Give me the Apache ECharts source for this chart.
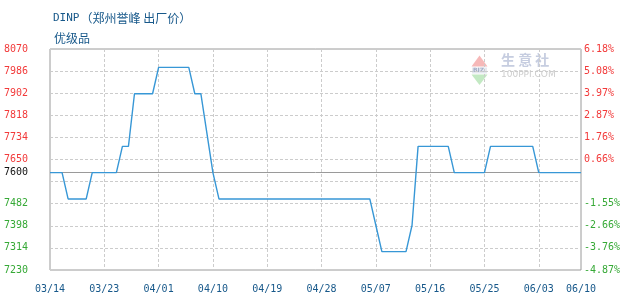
<!DOCTYPE html>
<html>
<head>
<meta charset="utf-8">
<script src="https://cdn.jsdelivr.net/npm/echarts@6/dist/echarts.min.js"></script>
<style>
  html, body { margin: 0; padding: 0; background: #fff; }
  #chart { width: 630px; height: 300px; }
</style>
</head>
<body>
<div id="chart"></div>
<script>
// ---- data ----
const titleCode = 'DINP';
const titleRest = '（郑州誉峰 出厂价）';
const subTitleText = '优级品';
const baseValue = 7600;
const yMin = 7230;
const yMax = 8070;
const yStep = 84;
const dates = [
  '03/14','03/15','03/16','03/17','03/18','03/19','03/20','03/21','03/22','03/23',
  '03/24','03/25','03/26','03/27','03/28','03/29','03/30','03/31','04/01','04/02',
  '04/03','04/04','04/05','04/06','04/07','04/08','04/09','04/10','04/11','04/12',
  '04/13','04/14','04/15','04/16','04/17','04/18','04/19','04/20','04/21','04/22',
  '04/23','04/24','04/25','04/26','04/27','04/28','04/29','04/30','05/01','05/02',
  '05/03','05/04','05/05','05/06','05/07','05/08','05/09','05/10','05/11','05/12',
  '05/13','05/14','05/15','05/16','05/17','05/18','05/19','05/20','05/21','05/22',
  '05/23','05/24','05/25','05/26','05/27','05/28','05/29','05/30','05/31','06/01',
  '06/02','06/03','06/04','06/05','06/06','06/07','06/08','06/09','06/10'
];
const prices = [
  7600,7600,7600,7500,7500,7500,7500,7600,7600,7600,
  7600,7600,7700,7700,7900,7900,7900,7900,8000,8000,
  8000,8000,8000,8000,7900,7900,7750,7600,7500,7500,
  7500,7500,7500,7500,7500,7500,7500,7500,7500,7500,
  7500,7500,7500,7500,7500,7500,7500,7500,7500,7500,
  7500,7500,7500,7500,7400,7300,7300,7300,7300,7300,
  7400,7700,7700,7700,7700,7700,7700,7600,7600,7600,
  7600,7600,7600,7700,7700,7700,7700,7700,7700,7700,
  7700,7600,7600,7600,7600,7600,7600,7600,7600
];
const labelEvery = 9;
const hiddenTick = 7566;

// ---- styles ----
const monoFont = 'DejaVu Sans Mono';
const cjkFont = 'Noto Sans CJK SC';
const redC = '#f23a3a';
const greenC = '#36a936';
const blueText = '#17588a';

const showIdx = (i) => i % labelEvery === 0 || i === dates.length - 1;

const chart = echarts.init(document.getElementById('chart'));
chart.setOption({
  animation: false,
  backgroundColor: '#fff',
  title: [
    { text: '{a|' + titleCode + '}{b|' + titleRest + '}', left: 48, top: 7,
      textStyle: {
        color: blueText, fontSize: 12, fontWeight: 'normal', fontFamily: cjkFont,
        rich: {
          a: { color: blueText, fontSize: 11, fontFamily: monoFont, padding: [0, 1, 0, 0] },
          b: { color: blueText, fontSize: 12, fontFamily: cjkFont }
        }
      } },
    { text: subTitleText, left: 49, top: 27,
      textStyle: { color: blueText, fontSize: 12, fontWeight: 'normal', fontFamily: cjkFont } }
  ],
  grid: { left: 50, right: 49, top: 49, bottom: 30, show: true, borderColor: '#9a9a9a', borderWidth: 1, containLabel: false },
  graphic: [
    { type: 'polygon', silent: true, z: 0, shape: { points: [[471.5, 66.5], [479.5, 55.5], [487.5, 66.5]] }, style: { fill: '#f6b8b8' } },
    { type: 'rect', silent: true, z: 0, shape: { x: 472, y: 67.5, width: 15, height: 6 }, style: { fill: '#e6e9f0' } },
    { type: 'text', silent: true, z: 0, left: 473, top: 67.5, style: { text: 'BIZ', fill: '#a3aec6', font: 'bold 6px DejaVu Sans' } },
    { type: 'polygon', silent: true, z: 0, shape: { points: [[471.5, 74.5], [487.5, 74.5], [479.5, 85]] }, style: { fill: '#c3e9c3' } },
    { type: 'text', silent: true, z: 0, left: 501, top: 53, style: { text: '生 意 社', fill: '#c6cde0', font: 'bold 14px "Noto Sans CJK SC"' } },
    { type: 'text', silent: true, z: 0, left: 501, top: 70.5, style: { text: '100PPI.COM', fill: '#cdcdcd', font: '9px "DejaVu Sans"' } }
  ],
  xAxis: {
    type: 'category',
    data: dates,
    boundaryGap: false,
    axisLine: { show: false },
    axisTick: { show: false },
    axisLabel: {
      interval: (i) => showIdx(i),
      color: blueText, fontFamily: monoFont, fontSize: 10, margin: 14
    },
    splitLine: {
      show: true,
      interval: (i) => showIdx(i),
      lineStyle: { color: '#cccccc', type: [3, 2], width: 1 }
    }
  },
  yAxis: [
    {
      type: 'value', min: yMin, max: yMax, interval: yStep, position: 'left',
      axisLine: { show: false }, axisTick: { show: false },
      splitLine: { show: true, lineStyle: { color: '#cccccc', type: [3, 2], width: 1 } },
      axisLabel: {
        margin: 22, fontFamily: monoFont, fontSize: 10,
        formatter: (v) => {
          if (Math.round(v) === hiddenTick) return '';
          return (v > baseValue ? '{r|' : '{g|') + Math.round(v) + '}';
        },
        rich: {
          r: { color: redC, fontFamily: monoFont, fontSize: 10 },
          g: { color: greenC, fontFamily: monoFont, fontSize: 10 }
        }
      }
    },
    {
      type: 'value', min: yMin, max: yMax, interval: yStep, position: 'right',
      axisLine: { show: false }, axisTick: { show: false }, splitLine: { show: false },
      axisLabel: {
        margin: 3, fontFamily: monoFont, fontSize: 10,
        formatter: (v) => {
          if (Math.round(v) === hiddenTick) return '';
          const p = ((v - baseValue) / baseValue * 100).toFixed(2) + '%';
          return (v > baseValue ? '{r|' : '{g|') + p + '}';
        },
        rich: {
          r: { color: redC, fontFamily: monoFont, fontSize: 10 },
          g: { color: greenC, fontFamily: monoFont, fontSize: 10 }
        }
      }
    }
  ],
  series: [{
    type: 'line',
    data: prices,
    yAxisIndex: 0,
    symbol: 'none',
    lineStyle: { color: '#3797d6', width: 1.4 },
    z: 5,
    markLine: {
      silent: true,
      symbol: 'none',
      z: 3,
      lineStyle: { color: '#9a9a9a', type: 'solid', width: 1 },
      data: [
        { yAxis: baseValue, label: { show: true, position: 'start', distance: 22, formatter: String(baseValue), color: '#111', fontFamily: monoFont, fontSize: 10 } },
        { yAxis: baseValue, lineStyle: { opacity: 0 }, label: { show: true, position: 'end', distance: 3, formatter: '0.00%', color: '#111', fontFamily: monoFont, fontSize: 10 } }
      ]
    }
  }]
});
</script>
</body>
</html>
